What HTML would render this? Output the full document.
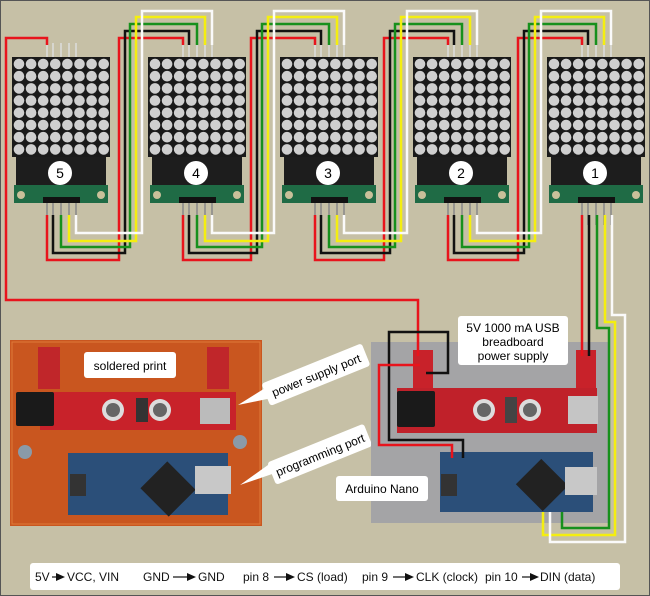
<!DOCTYPE html>
<html><head><meta charset="utf-8"><style>
html,body{margin:0;padding:0;background:#c6c0a6;}
svg{display:block;font-family:"Liberation Sans",sans-serif;}
</style></head><body>
<svg id="s" width="650" height="596" viewBox="0 0 650 596" xmlns="http://www.w3.org/2000/svg">
<rect x="0.5" y="0.5" width="649" height="595" fill="#c6c0a6" stroke="#555" stroke-width="1"/>
<g>
<rect x="10" y="340" width="252" height="186" fill="#c9561f"/>
<rect x="12" y="342" width="248" height="182" fill="none" stroke="#e07a3a" stroke-width="1"/>
<rect x="38" y="347" width="22" height="42" fill="#c0262a"/>
<rect x="207" y="347" width="22" height="42" fill="#c0262a"/>
<rect x="40" y="392" width="196" height="38" fill="#c8222a"/>
<rect x="16" y="392" width="38" height="34" fill="#1a1a1a" rx="2"/>
<circle cx="113" cy="410" r="11" fill="#ddd"/><circle cx="113" cy="410" r="7" fill="#666"/>
<circle cx="160" cy="410" r="11" fill="#ddd"/><circle cx="160" cy="410" r="7" fill="#666"/>
<rect x="136" y="398" width="12" height="24" fill="#333"/>
<rect x="200" y="398" width="30" height="26" fill="#bbb"/>
<rect x="68" y="453" width="160" height="62" fill="#2b4f79"/>
<rect x="148" y="470" width="40" height="38" fill="#222" transform="rotate(45 168 489)"/>
<rect x="195" y="466" width="36" height="28" fill="#c8c8c8"/>
<rect x="70" y="474" width="16" height="22" fill="#333"/>
<circle cx="240" cy="442" r="7" fill="#8a9aa8"/><circle cx="25" cy="452" r="7" fill="#8a9aa8"/>
</g>
<rect x="84" y="352" width="92" height="26" rx="3" fill="#fff"/>
<text x="130" y="370" font-size="12" text-anchor="middle">soldered print</text>
<polygon points="238,405 270,385 272,398" fill="#fff"/>
<g transform="rotate(-22 315 375)"><rect x="262" y="363" width="108" height="24" rx="3" fill="#fff"/><text x="316" y="380" font-size="12" text-anchor="middle">power supply port</text></g>
<polygon points="240,485 275,460 278,472" fill="#fff"/>
<g transform="rotate(-22 318 455)"><rect x="268" y="443" width="104" height="24" rx="3" fill="#fff"/><text x="320" y="460" font-size="12" text-anchor="middle">programming port</text></g>
<rect x="371" y="342" width="239" height="181" fill="#a4a4a6"/>
<rect x="397" y="388" width="200" height="45" fill="#c0212a"/>
<rect x="397" y="391" width="38" height="36" fill="#1a1a1a" rx="2"/>
<circle cx="484" cy="410" r="11" fill="#ddd"/><circle cx="484" cy="410" r="7" fill="#666"/>
<circle cx="530" cy="410" r="11" fill="#ddd"/><circle cx="530" cy="410" r="7" fill="#666"/>
<rect x="505" y="397" width="12" height="26" fill="#444"/>
<rect x="568" y="396" width="30" height="28" fill="#c5c5c5"/>
<rect x="413" y="350" width="20" height="38" fill="#c8222a"/>
<rect x="576" y="350" width="20" height="38" fill="#c8222a"/>
<rect x="440" y="452" width="153" height="60" fill="#2b4f79"/>
<rect x="523" y="467" width="38" height="36" fill="#222" transform="rotate(45 542 485)"/>
<rect x="565" y="467" width="32" height="28" fill="#c8c8c8"/>
<rect x="441" y="474" width="16" height="22" fill="#333"/>
<rect x="458" y="316" width="110" height="49" rx="3" fill="#fff"/>
<text x="513" y="332" font-size="12" text-anchor="middle">5V 1000 mA USB</text>
<text x="513" y="346" font-size="12" text-anchor="middle">breadboard</text>
<text x="513" y="360" font-size="12" text-anchor="middle">power supply</text>
<rect x="336" y="476" width="92" height="25" rx="3" fill="#fff"/>
<text x="382" y="493" font-size="12" text-anchor="middle">Arduino Nano</text>
<g id="mods"></g>
<g id="wires" fill="none" stroke-width="2.5" stroke-linejoin="miter"></g>
<rect x="30" y="563" width="590" height="27" rx="3" fill="#fff"/>
<g font-size="12" fill="#111">
<text x="35" y="581">5V</text><text x="67" y="581">VCC, VIN</text>
<text x="143" y="581">GND</text><text x="198" y="581">GND</text>
<text x="243" y="581">pin 8</text><text x="297" y="581">CS (load)</text>
<text x="362" y="581">pin 9</text><text x="416" y="581">CLK (clock)</text>
<text x="485" y="581">pin 10</text><text x="540" y="581">DIN (data)</text>
</g>
<g id="arr" stroke="#111" stroke-width="1.2" fill="#111"></g>
</svg>
<script>
var NS="http://www.w3.org/2000/svg";
function el(p,t,a,txt){var e=document.createElementNS(NS,t);for(var k in a)e.setAttribute(k,a[k]);if(txt)e.textContent=txt;p.appendChild(e);return e;}
var mods=document.getElementById('mods'),W=document.getElementById('wires'),A=document.getElementById('arr');
[[52,66],[173,197],[274,296],[393,415],[522,540]].forEach(function(a){
 el(A,'line',{x1:a[0],y1:577,x2:a[1]-8,y2:577});
 el(A,'polygon',{points:(a[1]-10)+',573 '+(a[1]-1)+',577 '+(a[1]-10)+',581',stroke:'none'});
});
var L=[12,148,280,413,547],N=[5,4,3,2,1];
var off=[35,41,49,57,64];
L.forEach(function(x,i){
 for(var k=0;k<5;k++){el(mods,'line',{x1:x+off[k],y1:43,x2:x+off[k],y2:58,stroke:'#ddd','stroke-width':1.5});
  el(mods,'line',{x1:x+off[k],y1:200,x2:x+off[k],y2:225,stroke:'#888','stroke-width':1.5});}
 el(mods,'rect',{x:x+2,y:185,width:94,height:18,fill:'#1f6b45'});
 el(mods,'circle',{cx:x+9,cy:195,r:4,fill:'#c9c09a'});el(mods,'circle',{cx:x+89,cy:195,r:4,fill:'#c9c09a'});
 el(mods,'rect',{x:x+4,y:156,width:90,height:29,fill:'#1d1d1d'});
 el(mods,'rect',{x:x,y:57,width:98,height:100,fill:'#1a1a1a'});
 for(var r=0;r<8;r++)for(var c=0;c<8;c++)el(mods,'circle',{cx:x+7+c*12.1,cy:64+r*12.2,r:5.3,fill:'#cfcfcf'});
 el(mods,'rect',{x:x+31,y:197,width:37,height:6,fill:'#111'});
 el(mods,'circle',{cx:x+48,cy:173,r:12,fill:'#fff'});
 el(mods,'text',{x:x+48,y:178,'font-size':14,'text-anchor':'middle'},''+N[i]);
});
var col=['#e8141c','#111','#17901c','#f4ee10','#fafafa'];
var topY=[38,31,24,17,11],vOff=[-29,-23,-18,-12,-6],botY=[260,253,247,241,233];
function P(d,c){el(W,'path',{d:d,stroke:c});}
for(var i=1;i<5;i++){var Lf=L[i-1];
 for(var k=0;k<5;k++){var vx=L[i]+vOff[k];
  P('M'+(L[i]+off[k])+' 45V'+topY[k]+'H'+vx+'V'+botY[k]+'H'+(Lf+off[k])+'V215',col[k]);}}
P('M47 45V38H6V300H418V356','#e8141c');
P('M582 215V356','#e8141c');P('M589 215V356','#111');
P('M597 215V328H609V528H562V512','#17901c');
P('M605 215V322H615V535H543V512','#f4ee10');
P('M612 215V315H625V542H550V512','#fafafa');
P('M426 373H448V332H389V440H463V458','#111');
P('M420 365H379V445H452V458','#e8141c');
</script>
</body></html>
